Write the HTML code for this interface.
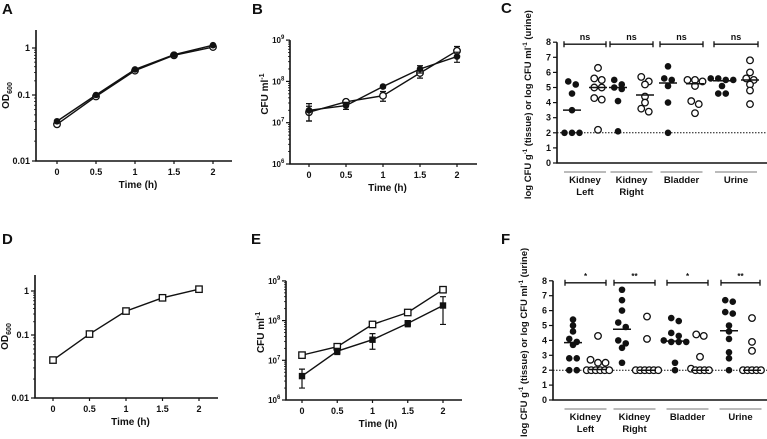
<!DOCTYPE html>
<html><head><meta charset="utf-8"><style>
body{margin:0;background:#fff;}
svg{display:block;font-family:"Liberation Sans",Arial,sans-serif;font-weight:bold;}
</style></head><body>
<svg id="fig" width="767" height="439" viewBox="0 0 767 439"></svg>
<script>
// ---------- data ----------
const timeCats = [0, 0.5, 1, 1.5, 2];
const timeTickLabels = ["0", "0.5", "1", "1.5", "2"];
const odTickLabels = ["0.01", "0.1", "1"];
const odA_filled = [0.04, 0.1, 0.35, 0.72, 1.15];
const odA_open = [0.036, 0.095, 0.33, 0.7, 1.05];
const odD = [0.04, 0.105, 0.35, 0.7, 1.1];
const cfuB_filled = [2e7, 2.6e7, 7.5e7, 2e8, 4e8];
const cfuB_filledErr = [0.9e7, 0.5e7, 0.6e7, 0.4e8, 1.1e8];
const cfuB_open = [1.8e7, 3.2e7, 4.5e7, 1.6e8, 5.5e8];
const cfuB_openErr = [0.7e7, 0.4e7, 1.2e7, 0.4e8, 1.5e8];
const cfuE_open = [1.35e7, 2.2e7, 8e7, 1.6e8, 6e8];
const cfuE_openErr = [0.2e7, 0.2e7, 0.6e7, 0.2e8, 1e8];
const cfuE_filled = [4e6, 1.7e7, 3.3e7, 8.5e7, 2.4e8];
const cfuE_filledErr = [2e6, 0.3e7, 1.4e7, 1.5e7, 1.6e8];
const organs = ["Kidney Left", "Kidney Right", "Bladder", "Urine"];
const dotTicks = [0,1,2,3,4,5,6,7,8];
const C_filled = [[5.4,5.2,4.6,3.5,2,2,2],[5.5,5.2,5.0,4.9,4.1,2.1],[6.4,5.6,5.5,5.1,4.0,2.0],[5.6,5.6,5.5,5.5,5.1,4.6,4.6]];
const C_open = [[6.3,5.6,5.5,5.0,5.0,4.3,4.2,2.2],[5.7,5.4,5.2,4.4,4.0,3.6,3.4],[5.5,5.5,5.4,5.1,4.1,3.9,3.3],[6.8,6.0,5.6,5.5,5.2,4.8,3.9]];
const C_filledMed = [3.5,5.0,5.3,5.45];
const C_openMed = [5.0,4.5,5.25,5.5];
const C_sig = ["ns","ns","ns","ns"];
const F_filled = [[5.4,5.0,4.6,4.1,3.9,3.7,2.8,2.8,2,2],[7.4,6.7,6.0,5.2,4.9,4.0,3.8,3.5,2.5],[5.5,5.3,4.5,4.3,4.0,3.9,3.9,3.9,2.5,2.0],[6.7,6.6,5.9,5.8,5.0,4.6,4.1,3.2,2.8,2.0]];
const F_open = [[4.3,2.7,2.5,2.5,2,2,2,2,2,2],[5.6,4.1,2,2,2,2,2,2],[4.4,4.3,2.9,2.1,2,2,2,2],[5.5,3.9,3.3,2,2,2,2,2]];
const F_filledMed = [3.85,4.75,3.95,4.65];
const F_openMed = [2.05,2.0,2.0,2.0];
const F_sig = ["*","**","*","**"];

// ---------- helpers ----------
const NS="http://www.w3.org/2000/svg";
const svg=document.getElementById('fig');
function mk(tag,attrs,parent,txt){const e=document.createElementNS(NS,tag);for(const k in attrs)e.setAttribute(k,attrs[k]);if(txt!==undefined)e.textContent=txt;(parent||svg).appendChild(e);return e;}
function grp(name){const g=mk('g',{});return g;}
function lin(d0,d1,r0,r1){return v=>r0+(v-d0)/(d1-d0)*(r1-r0);}
function pieceLog(vals,pix){const lv=vals.map(Math.log10);return v=>{const l=Math.log10(v);let i=0;if(l>lv[lv.length-1])i=lv.length-2;else{while(i<lv.length-2&&l>lv[i+1])i++;}return pix[i]+(l-lv[i])/(lv[i+1]-lv[i])*(pix[i+1]-pix[i]);};}
function txt(g,x,y,s,size,anchor,name,extra){const t=mk('text',Object.assign({x:x,y:y,'font-size':size,'text-anchor':anchor||'middle',fill:'#111'},extra||{}),g,s);return t;}
function marker(g,x,y,type,name){let e;
 if(type==='fc')e=mk('circle',{cx:x,cy:y,r:3.3,fill:'#111'},g);
 else if(type==='oc')e=mk('circle',{cx:x,cy:y,r:3.3,fill:'#fff',stroke:'#111','stroke-width':1.3},g);
 else if(type==='fs')e=mk('rect',{x:x-3.2,y:y-3.2,width:6.4,height:6.4,fill:'#111'},g);
 else e=mk('rect',{x:x-3.2,y:y-3.2,width:6.4,height:6.4,fill:'#fff',stroke:'#111','stroke-width':1.3},g);
 return e;}
function letter(x,y,s){const t=mk('text',{x:x,y:y,'font-size':15,fill:'#111'},svg,s);}

function axesLine(g,x0,y0,x1,yTop,xTicks,xs){
 const a=mk('path',{d:`M${x0} ${yTop}V${y0}H${x1}`,fill:'none',stroke:'#111','stroke-width':1.6},g);
 
 xTicks.forEach((v,i)=>{mk('line',{x1:xs(v),x2:xs(v),y1:y0,y2:y0+3,stroke:'#111','stroke-width':1.2},g);
  txt(g,xs(v),y0+14,timeTickLabels[i],9,'middle','x-tick-label');});
}
function logMinor(g,x0,decadeVals,ys){for(let i=0;i<decadeVals.length-1;i++){for(let k=2;k<10;k++){const y=ys(decadeVals[i]*k);mk('line',{x1:x0-2,x2:x0,y1:y,y2:y,stroke:'#111','stroke-width':0.8},g);}}
 decadeVals.forEach(v=>mk('line',{x1:x0-4,x2:x0,y1:ys(v),y2:ys(v),stroke:'#111','stroke-width':1.2},g));}

// ---------- OD panels ----------
function odPanel(name,P,series){
 const g=grp(name);
 const xs=lin(0,2,P.x0v,P.x2v);
 const ys=pieceLog([0.01,0.1,1,10],[P.y001,P.y01,P.y1,P.y1-(P.y01-P.y1)]);
 axesLine(g,P.ax,P.ay,P.axR,P.top,timeCats,xs);
 logMinor(g,P.ax,[0.01,0.1,1],ys);
 [0.01,0.1,1].forEach((v,i)=>txt(g,P.ax-6,ys(v)+3,odTickLabels[i],9,'end','y-tick-label'));
 const yl=txt(g,0,0,'OD',10,'middle','y-axis-title',{transform:`translate(${P.ax-27},${(P.top+P.ay)/2}) rotate(-90)`});
 mk('tspan',{'font-size':7,dy:3},yl,'600');
 txt(g,(P.ax+P.axR)/2+4,P.ay+27,'Time (h)',10,'middle','x-axis-title');
 series.forEach(s=>{
  const pts=s.vals.map((v,i)=>[xs(timeCats[i]),ys(v)]);
  const l=mk('polyline',{points:pts.map(p=>p.join(',')).join(' '),fill:'none',stroke:'#111','stroke-width':1.4},g);
  
  pts.forEach(p=>marker(g,p[0],p[1],s.type,s.name+'-point'));
 });
}
odPanel('panel-a',{ax:36,ay:161,axR:232,top:30,x0v:57,x2v:213,y001:161,y01:95,y1:48},
 [{vals:odA_open,type:'oc',name:'series-open'},{vals:odA_filled,type:'fc',name:'series-filled'}]);
odPanel('panel-d',{ax:35,ay:398,axR:218,top:275,x0v:53,x2v:199,y001:398,y01:335,y1:291},
 [{vals:odD,type:'os',name:'series-square'}]);

// ---------- CFU panels ----------
function cfuPanel(name,P,series){
 const g=grp(name);
 const xs=lin(0,2,P.x0v,P.x2v);
 const ys=v=>P.ay-(Math.log10(v)-6)*P.dec;
 axesLine(g,P.ax,P.ay,P.axR,ys(1e9),timeCats,xs);
 logMinor(g,P.ax,[1e6,1e7,1e8,1e9],ys);
 [6,7,8,9].forEach(e=>{txt(g,P.ax-9,ys(Math.pow(10,e))+3,'10',8,'end','y-tick-label');
  const s=mk('text',{x:P.ax-9,y:ys(Math.pow(10,e))-1,'font-size':6,'text-anchor':'start',fill:'#111'},g,String(e));});
 const yl=txt(g,0,0,'CFU ml',10,'middle','y-axis-title',{transform:`translate(${P.ax-22},${ys(1e9)+(P.ay-ys(1e9))/2-8}) rotate(-90)`});
 mk('tspan',{'font-size':7,dy:-4},yl,'-1');
 txt(g,(P.ax+P.axR)/2+4,P.ay+27,'Time (h)',10,'middle','x-axis-title');
 series.forEach(s=>{
  const pts=s.vals.map((v,i)=>[xs(timeCats[i]),ys(v)]);
  const l=mk('polyline',{points:pts.map(p=>p.join(',')).join(' '),fill:'none',stroke:'#111','stroke-width':1.4},g);
  
  s.vals.forEach((v,i)=>{const x=xs(timeCats[i]);const y1=ys(v+s.err[i]),y2=ys(Math.max(v-s.err[i],v*0.05));
   const e=mk('path',{d:`M${x} ${y1}V${y2}M${x-3} ${y1}H${x+3}M${x-3} ${y2}H${x+3}`,stroke:'#111','stroke-width':1.2,fill:'none'},g);
   });
  pts.forEach(p=>marker(g,p[0],p[1],s.type,s.name+'-point'));
 });
}
cfuPanel('panel-b',{ax:290,ay:164,axR:477,dec:41.3,x0v:309,x2v:457},
 [{vals:cfuB_open,err:cfuB_openErr,type:'oc',name:'series-open'},{vals:cfuB_filled,err:cfuB_filledErr,type:'fc',name:'series-filled'}]);
cfuPanel('panel-e',{ax:286,ay:400,axR:462,dec:39.7,x0v:302,x2v:443},
 [{vals:cfuE_open,err:cfuE_openErr,type:'os',name:'series-open-square'},{vals:cfuE_filled,err:cfuE_filledErr,type:'fs',name:'series-filled-square'}]);

// ---------- dot plots ----------
function dotPanel(name,P,filled,open,fMed,oMed,sig){
 const g=grp(name);
 const ys=v=>P.ay-v*P.unit;
 const a=mk('path',{d:`M${P.ax} ${ys(8)}V${P.ay}H767`,fill:'none',stroke:'#111','stroke-width':1.6},g);
 
 dotTicks.forEach(v=>{mk('line',{x1:P.ax-4,x2:P.ax,y1:ys(v),y2:ys(v),stroke:'#111','stroke-width':1.2},g);
  txt(g,P.ax-6,ys(v)+3,String(v),9,'end','y-tick-label');});
 const dl=mk('line',{x1:P.ax,x2:767,y1:ys(2),y2:ys(2),stroke:'#111','stroke-width':1,'stroke-dasharray':'1.5,1.5'},g);
 
 const yl=txt(g,0,0,'log CFU g',9.5,'middle','y-axis-title',{transform:`translate(${P.ax-26},${ys(4)+2}) rotate(-90)`});
 mk('tspan',{'font-size':6,dy:-4},yl,'-1');mk('tspan',{dy:4},yl,' (tissue) or log CFU ml');
 mk('tspan',{'font-size':6,dy:-4},yl,'-1');mk('tspan',{dy:4},yl,' (urine)');
 function plotGroup(vals,cx,type,nm){
  const bins=[];
  vals.forEach(v=>{let b=bins.find(b=>Math.abs(b.v-v)<0.35);if(b)b.items.push(v);else bins.push({v:v,items:[v]});});
  bins.forEach(b=>{const n=b.items.length;const sp=n>4?4.5:7.5;b.items.forEach((v,i)=>marker(g,cx+(i-(n-1)/2)*sp,ys(v),type,nm));});
 }
 organs.forEach((o,i)=>{
  const fx=P.fx[i],ox=P.ox[i];
  plotGroup(filled[i],fx,'fc','filled-point-'+i);
  plotGroup(open[i],ox,'oc','open-point-'+i);
  [[fx,fMed[i]],[ox,oMed[i]]].forEach(m=>{const l=mk('line',{x1:m[0]-9,x2:m[0]+9,y1:ys(m[1]),y2:ys(m[1]),stroke:'#111','stroke-width':1.5},g);});
  const by=ys(8)+2;
  const br=mk('path',{d:`M${fx-8} ${by}H${ox+8}M${fx-8} ${by-3}V${by+3}M${ox+8} ${by-3}V${by+3}`,stroke:'#111','stroke-width':1.3,fill:'none'},g);
  
  txt(g,(fx+ox)/2,by-4,sig[i],sig[i]==='ns'?9:8,'middle','significance-label');
  const lc=(fx+ox)/2;
  const ul=mk('line',{x1:lc-21,x2:lc+21,y1:P.ay+9,y2:P.ay+9,stroke:'#777','stroke-width':1},g);
  const parts=o.split(' ');
  txt(g,lc,P.ay+20,parts[0],9.5,'middle','group-label');
  if(parts[1])txt(g,lc,P.ay+32,parts[1],9.5,'middle','group-label');
 });
}
dotPanel('panel-c',{ax:557,ay:163,unit:15.1,fx:[572,618,668,722],ox:[598,645,695,750]},C_filled,C_open,C_filledMed,C_openMed,C_sig);
dotPanel('panel-f',{ax:553,ay:400,unit:14.9,fx:[573,622,675,729],ox:[598,647,700,752]},F_filled,F_open,F_filledMed,F_openMed,F_sig);

letter(2,14,'A');letter(252,14,'B');letter(501,13,'C');
letter(2,244,'D');letter(251,244,'E');letter(501,244,'F');
</script>
</body></html>
